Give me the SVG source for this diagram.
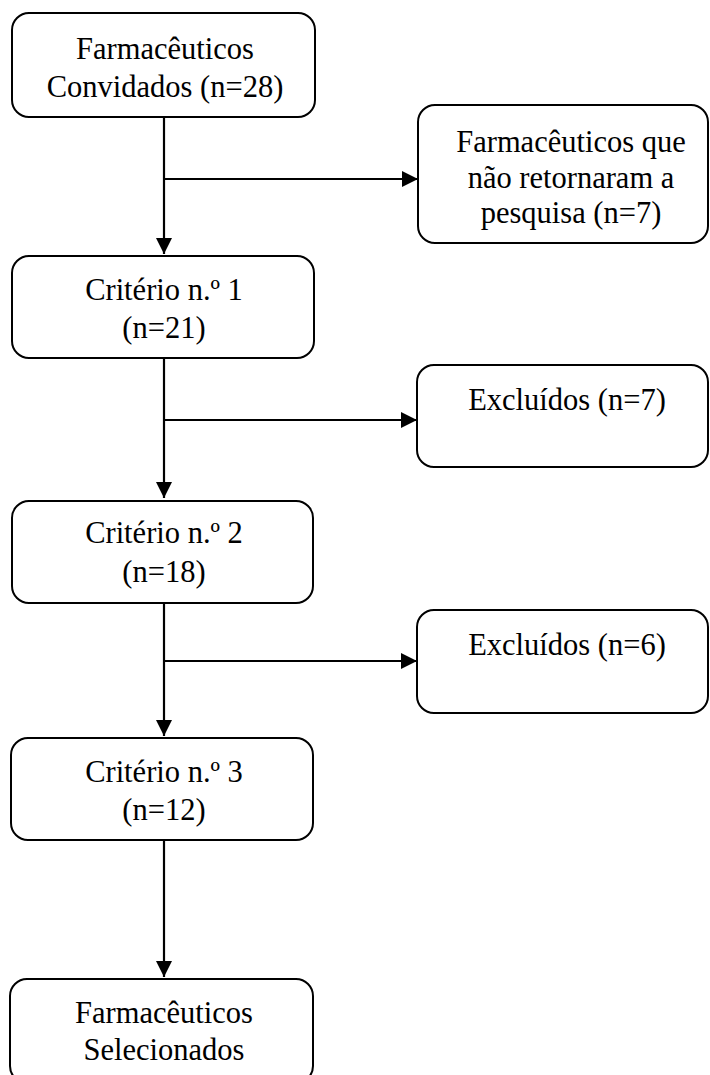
<svg xmlns="http://www.w3.org/2000/svg" width="710" height="1075" viewBox="0 0 710 1075">
  <style>
    .box { fill: #ffffff; stroke: #000000; stroke-width: 2; }
    .lbl { font-family: "Liberation Serif", "Times New Roman", serif; font-size: 30.5px; fill: #000000; text-anchor: middle; }
    .conn { stroke: #000000; stroke-width: 2.2; fill: none; }
  </style>
  <defs>
    <marker id="arrow" viewBox="0 0 16 16" refX="16" refY="8" markerWidth="16" markerHeight="16" markerUnits="userSpaceOnUse" orient="auto">
      <path d="M0,0 L16,8 L0,16 Z" fill="#000000"/>
    </marker>
  </defs>
  <rect width="710" height="1075" fill="#ffffff"/>

  <g id="connectors">
    <line class="conn" x1="164" y1="117" x2="164" y2="254" marker-end="url(#arrow)"/>
    <line class="conn" x1="164" y1="179" x2="418" y2="179" marker-end="url(#arrow)"/>
    <line class="conn" x1="164" y1="358" x2="164" y2="498" marker-end="url(#arrow)"/>
    <line class="conn" x1="164" y1="420" x2="417" y2="420" marker-end="url(#arrow)"/>
    <line class="conn" x1="164" y1="603" x2="164" y2="736" marker-end="url(#arrow)"/>
    <line class="conn" x1="164" y1="661" x2="417" y2="661" marker-end="url(#arrow)"/>
    <line class="conn" x1="164" y1="840" x2="164" y2="977" marker-end="url(#arrow)"/>
  </g>

  <g id="node-convidados">
    <rect class="box" x="12" y="13" width="303" height="104" rx="17"/>
    <text class="lbl" x="165" y="59">Farmacêuticos</text>
    <text class="lbl" x="165" y="97">Convidados (n=28)</text>
  </g>

  <g id="node-nao-retornaram">
    <rect class="box" x="418" y="105" width="290" height="138" rx="17"/>
    <text class="lbl" x="571" y="152">Farmacêuticos que</text>
    <text class="lbl" x="571" y="188">não retornaram a</text>
    <text class="lbl" x="571" y="223">pesquisa (n=7)</text>
  </g>

  <g id="node-criterio1">
    <rect class="box" x="12" y="256" width="302" height="102" rx="17"/>
    <text class="lbl" x="164" y="300">Critério n.º 1</text>
    <text class="lbl" x="164" y="338">(n=21)</text>
  </g>

  <g id="node-excluidos7">
    <rect class="box" x="417" y="365" width="291" height="102" rx="17"/>
    <text class="lbl" x="567" y="410">Excluídos (n=7)</text>
  </g>

  <g id="node-criterio2">
    <rect class="box" x="12" y="501" width="301" height="102" rx="17"/>
    <text class="lbl" x="164" y="543">Critério n.º 2</text>
    <text class="lbl" x="164" y="582">(n=18)</text>
  </g>

  <g id="node-excluidos6">
    <rect class="box" x="417" y="610" width="291" height="103" rx="17"/>
    <text class="lbl" x="567" y="655">Excluídos (n=6)</text>
  </g>

  <g id="node-criterio3">
    <rect class="box" x="11" y="738" width="302" height="102" rx="17"/>
    <text class="lbl" x="164" y="782">Critério n.º 3</text>
    <text class="lbl" x="164" y="820">(n=12)</text>
  </g>

  <g id="node-selecionados">
    <rect class="box" x="10" y="979" width="303" height="104" rx="17"/>
    <text class="lbl" x="164" y="1023">Farmacêuticos</text>
    <text class="lbl" x="164" y="1060">Selecionados</text>
  </g>
</svg>
